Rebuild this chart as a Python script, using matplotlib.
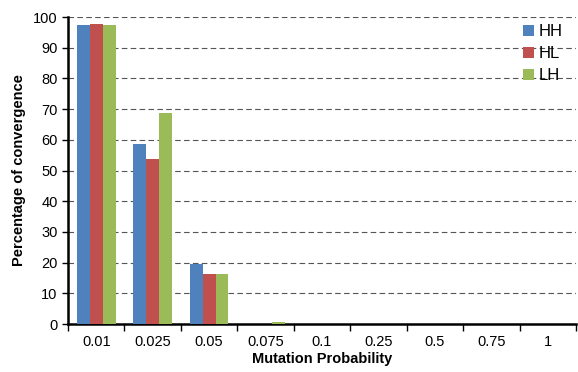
import numpy as np
import matplotlib
matplotlib.use("Agg")
import matplotlib.pyplot as plt
from matplotlib.ticker import FixedLocator

# Data
categories = ["0.01", "0.025", "0.05", "0.075", "0.1", "0.25", "0.5", "0.75", "1"]
hh = [97.3, 58.5, 19.5, 0, 0, 0, 0, 0, 0]
hl = [97.8, 53.7, 16.3, 0, 0, 0, 0, 0, 0]
lh = [97.3, 68.6, 16.3, 0.8, 0, 0, 0, 0, 0]
series = [("HH", hh, "#4F81BD"), ("HL", hl, "#C0504D"), ("LH", lh, "#9BBB59")]

plt.rcParams["font.family"] = ["Liberation Sans", "DejaVu Sans"]

fig = plt.figure(figsize=(5.78, 3.72), dpi=100)
ax = fig.add_axes([0.1176, 0.129, 0.879, 0.825])

x = np.arange(len(categories))
w = 0.228
for i, (name, vals, col) in enumerate(series):
    ax.bar(x + (i - 1) * w, vals, width=w, color=col, label=name,
           linewidth=0, zorder=3)

ax.set_xlim(-0.5, len(categories) - 0.5)
ax.set_ylim(0, 100)
ax.set_yticks(np.arange(0, 101, 10))
ax.set_xticks(x)
ax.set_xticklabels(categories)
ax.xaxis.set_minor_locator(FixedLocator(np.arange(-0.5, len(categories), 1)))
ax.tick_params(axis="x", which="major", length=0, pad=8, labelsize=10.5)
ax.tick_params(axis="x", which="minor", length=5, width=1, direction="out")
ax.tick_params(axis="y", length=4, width=1, labelsize=10.5)

ax.grid(axis="y", color="#555555", linestyle=(0, (5, 3)), linewidth=0.8, zorder=0)
ax.set_axisbelow(True)
for s in ["top", "right"]:
    ax.spines[s].set_visible(False)
ax.spines["left"].set_linewidth(1.8)
ax.spines["bottom"].set_linewidth(1.8)

ax.set_xlabel("Mutation Probability", fontsize=10.5, fontweight="bold", labelpad=2)
ax.set_ylabel("Percentage of convergence", fontsize=10.5, fontweight="bold", labelpad=5)

ax.legend(loc="upper right", bbox_to_anchor=(1.003, 1.025), frameon=False,
          handlelength=0.65, handleheight=0.65, handletextpad=0.3,
          labelspacing=0.42, fontsize=12)

fig.savefig("out.png", dpi=100)
